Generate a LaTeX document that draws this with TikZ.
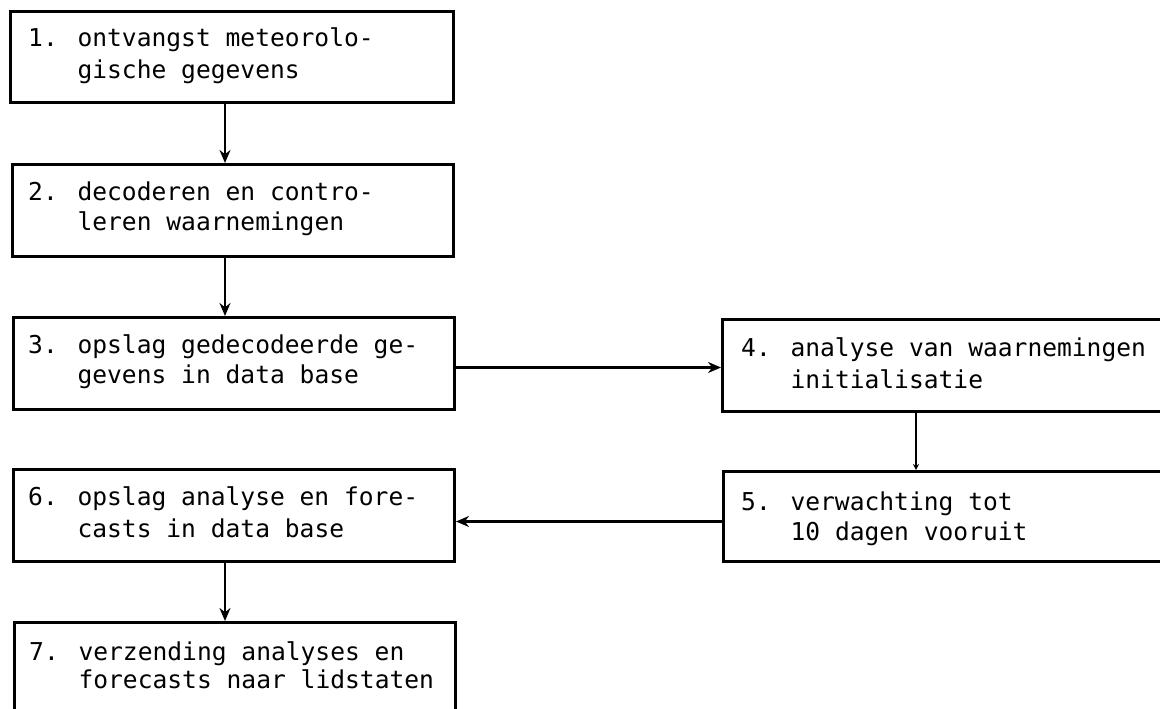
\documentclass[tikz,border=0pt]{standalone}
\usepackage{fontspec}
\newfontfamily\mono{DejaVu Sans Mono}
\usetikzlibrary{arrows.meta}
\tikzset{
  box/.style={draw, line width=3pt, rectangle, inner sep=0pt, anchor=north west},
  txt/.style={anchor=base west, inner sep=0pt, font=\mono\fontsize{24.6pt}{31pt}\selectfont},
  arr/.style={line width=2.6pt, -{Stealth[length=13pt,width=11pt]}},
  link/.style={line width=2.6pt, -{Stealth[length=6pt,width=6pt]}}
}
\begin{document}
\begin{tikzpicture}[x=1pt,y=-1pt]
\useasboundingbox (0,0) rectangle (1160,709);
\clip (0,0) rectangle (1160,709);
\fill[white] (0,0) rectangle (1160,709);

% boxes
\node[box, minimum width=443pt, minimum height=91pt] (b1) at (9,10) {};
\node[box, minimum width=441pt, minimum height=92pt] (b2) at (11,163) {};
\node[box, minimum width=441pt, minimum height=92pt] (b3) at (12,316) {};
\node[box, minimum width=460pt, minimum height=92pt] (b4) at (721,318) {};
\node[box, minimum width=460pt, minimum height=90pt] (b5) at (722,470) {};
\node[box, minimum width=441pt, minimum height=92pt] (b6) at (12,468) {};
\node[box, minimum width=441pt, minimum height=115pt] (b7) at (13,621) {};

% texts
\node[txt] (t1a) at (28,47) {1. ontvangst meteorolo-};
\node[txt] (t1b) at (28,78) {\hphantom{1. }gische gegevens};
\node[txt] (t2a) at (28,200) {2. decoderen en contro-};
\node[txt] (t2b) at (28,230) {\hphantom{2. }leren waarnemingen};
\node[txt] (t3a) at (28,353) {3. opslag gedecodeerde ge-};
\node[txt] (t3b) at (28,383) {\hphantom{3. }gevens in data base};
\node[txt] (t4a) at (741,356) {4. analyse van waarnemingen};
\node[txt] (t4b) at (741,388) {\hphantom{4. }initialisatie};
\node[txt] (t5a) at (741,510) {5. verwachting tot};
\node[txt] (t5b) at (741,540) {\hphantom{5. }10 dagen vooruit};
\node[txt] (t6a) at (28,505) {6. opslag analyse en fore-};
\node[txt] (t6b) at (28,537) {\hphantom{6. }casts in data base};
\node[txt] (t7a) at (29,660) {7. verzending analyses en};
\node[txt] (t7b) at (29,688) {\hphantom{7. }forecasts naar lidstaten};

% connectors
\draw[arr] ([xshift=-7pt]b1.south) -- ([xshift=-7pt]b1.south |- b2.north);
\draw[arr] ([xshift=-8pt]b2.south) -- ([xshift=-8pt]b2.south |- b3.north);
\draw[arr] ([yshift=-4pt]b3.east) -- ([yshift=-4pt]b3.east -| b4.west);
\draw[link] ([xshift=195pt]b4.south west) -- ([xshift=195pt]b4.south west |- b5.north);
\draw[arr] ([yshift=-5pt]b5.west) -- ([yshift=-5pt]b5.west -| b6.east);
\draw[arr] ([xshift=-9pt]b6.south) -- ([xshift=-9pt]b6.south |- b7.north);
\end{tikzpicture}
\end{document}
